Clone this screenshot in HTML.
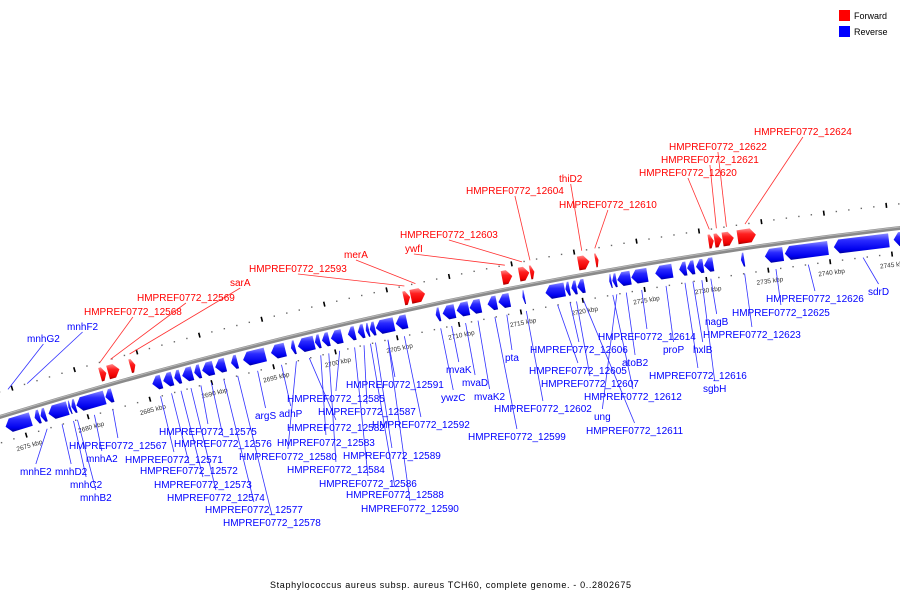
<!DOCTYPE html>
<html><head><meta charset="utf-8"><style>
html,body{margin:0;padding:0;background:#fff;}
svg{display:block;font-family:"Liberation Sans",sans-serif;}
</style></head><body>
<svg id="chart" width="900" height="600" viewBox="0 0 900 600" xmlns="http://www.w3.org/2000/svg">
<defs>
<linearGradient id="gb" x1="0" y1="0" x2="0" y2="1"><stop offset="0" stop-color="#8c8cff"/><stop offset="0.35" stop-color="#2a2aff"/><stop offset="0.8" stop-color="#0000ee"/><stop offset="1" stop-color="#00009a"/></linearGradient>
<linearGradient id="gr" x1="0" y1="0" x2="0" y2="1"><stop offset="0" stop-color="#ff8c8c"/><stop offset="0.35" stop-color="#ff2020"/><stop offset="0.8" stop-color="#ee0000"/><stop offset="1" stop-color="#9a0000"/></linearGradient>
</defs>
<g id="ticks"></g>
<g id="backbone"></g>
<g id="lines"></g>
<g id="genes"></g>
<g id="labels"></g>
<g>
<rect x="839" y="10" width="11" height="11" fill="#ff0000"/>
<text x="854" y="19" font-size="9" fill="#000">Forward</text>
<rect x="839" y="26" width="11" height="11" fill="#0000ff"/>
<text x="854" y="35" font-size="9" fill="#000">Reverse</text>
</g>
<text x="270" y="588" font-size="9" textLength="361" fill="#000">Staphylococcus aureus subsp. aureus TCH60, complete genome. - 0..2802675</text>
</svg>
<script>
const revStart = [2673.63,2675.97,2676.45,2677.09,2678.70,2678.94,2679.34,2681.68,2685.46,2686.34,2687.23,2687.87,2688.84,2689.48,2690.53,2691.81,2692.78,2695.03,2696.64,2697.20,2698.57,2699.14,2699.86,2701.23,2702.03,2702.67,2702.99,2703.48,2705.09,2708.31,2708.87,2710.00,2711.04,2712.49,2713.37,2715.31,2717.16,2718.77,2719.25,2719.73,2722.30,2722.55,2722.95,2724.08,2726.01,2727.94,2728.58,2729.30,2729.95,2732.92,2734.85,2736.46,2740.41,2745.23];
const revEnd = [2675.72,2676.45,2676.93,2678.70,2678.94,2679.34,2681.68,2682.32,2686.26,2687.15,2687.79,2688.76,2689.40,2690.45,2691.41,2692.38,2694.63,2696.24,2697.04,2698.57,2699.05,2699.78,2700.82,2701.87,2702.59,2702.99,2703.48,2705.01,2706.05,2708.71,2709.92,2711.04,2712.01,2713.29,2714.34,2715.55,2718.77,2719.17,2719.73,2720.37,2722.55,2722.95,2724.08,2725.44,2727.45,2728.58,2729.22,2729.95,2730.75,2733.25,2736.38,2740.00,2744.91,2746.27];
const fwdStart = [2681.76,2682.40,2684.17,2706.13,2706.70,2714.02,2715.39,2716.27,2720.13,2721.50,2730.59,2731.07,2731.72,2732.92];
const fwdEnd = [2682.32,2683.37,2684.65,2706.70,2707.90,2714.90,2716.27,2716.67,2721.10,2721.82,2731.07,2731.72,2732.68,2734.45];
const tickKbp = [2670,2675,2680,2685,2690,2695,2700,2705,2710,2715,2720,2725,2730,2735,2740,2745];
const tickLabels = ["2670 kbp","2675 kbp","2680 kbp","2685 kbp","2690 kbp","2695 kbp","2700 kbp","2705 kbp","2710 kbp","2715 kbp","2720 kbp","2725 kbp","2730 kbp","2735 kbp","2740 kbp","2745 kbp"];
const labelText = ["mnhG2","mnhF2","mnhE2","mnhD2","mnhC2","mnhB2","mnhA2","HMPREF0772_12567","HMPREF0772_12571","HMPREF0772_12572","HMPREF0772_12573","HMPREF0772_12574","HMPREF0772_12575","HMPREF0772_12576","HMPREF0772_12577","HMPREF0772_12578","argS","adhP","HMPREF0772_12580","HMPREF0772_12582","HMPREF0772_12583","HMPREF0772_12584","HMPREF0772_12585","HMPREF0772_12586","HMPREF0772_12587","HMPREF0772_12588","HMPREF0772_12589","HMPREF0772_12590","HMPREF0772_12591","HMPREF0772_12592","ywzC","mvaK","mvaD","mvaK2","HMPREF0772_12599","pta","HMPREF0772_12602","HMPREF0772_12605","HMPREF0772_12606","HMPREF0772_12607","HMPREF0772_12611","HMPREF0772_12612","ung","atoB2","HMPREF0772_12614","proP","HMPREF0772_12616","hxlB","sgbH","nagB","HMPREF0772_12623","HMPREF0772_12625","HMPREF0772_12626","sdrD","HMPREF0772_12568","HMPREF0772_12569","sarA","HMPREF0772_12593","merA","ywfI","HMPREF0772_12603","HMPREF0772_12604","thiD2","HMPREF0772_12610","HMPREF0772_12620","HMPREF0772_12621","HMPREF0772_12622","HMPREF0772_12624"];
const labelStrand = ["r","r","r","r","r","r","r","r","r","r","r","r","r","r","r","r","r","r","r","r","r","r","r","r","r","r","r","r","r","r","r","r","r","r","r","r","r","r","r","r","r","r","r","r","r","r","r","r","r","r","r","r","r","r","f","f","f","f","f","f","f","f","f","f","f","f","f","f"];
const labelGene = [1,2,3,4,5,6,7,8,9,10,11,12,13,14,15,16,17,18,19,20,21,22,23,24,25,26,27,28,28,29,30,31,32,33,34,35,36,37,38,39,40,41,42,43,44,45,46,47,48,49,50,51,52,53,1,2,3,4,5,6,7,8,9,10,11,12,13,14];
// layout (text positions: left x, vertical centre)
const layoutX = [27,67,20,55,70,80,86,69,125,140,154,167,159,174,205,223,255,279,239,287,277,287,287,319,318,346,343,361,346,372,441,446,462,474,468,505,494,529,530,541,586,584,594,622,598,663,649,693,703,705,703,732,766,868,84,137,230,249,344,405,400,466,559,559,639,661,669,754];
const layoutY = [338,326,471,471,484,497,458,445,459,470,484,497,431,443,509,522,415,413,456,427,442,469,398,483,411,494,455,508,384,424,397,369,382,396,436,357,408,370,349,383,430,396,416,362,336,349,375,349,388,321,334,312,298,291,311,297,282,268,254,248,234,190,178,204,172,159,146,131];

const NS="http://www.w3.org/2000/svg";
const R=4998.5, CX=1473, CY=5193.5;
function kx(kbp){return 19+(kbp-2675)*12.43;}
function theta(kbp){return Math.asin((kx(kbp)-CX)/R);}
function pt(kbp,r){const t=theta(kbp);return [CX+r*Math.sin(t), CY-r*Math.cos(t)];}
function mk(tag,parent){const e=document.createElementNS(NS,tag);parent.appendChild(e);return e;}

// backbone
const bb=document.getElementById('backbone');
const p0=pt(2672,R), p1=pt(2748,R);
const bbPath=mk('path',bb);


bbPath.setAttribute('d',`M${p0[0]},${p0[1]} A${R},${R} 0 0 1 ${p1[0]},${p1[1]}`);
bbPath.setAttribute('stroke','#8a8a8a');bbPath.setAttribute('stroke-width','4');bbPath.setAttribute('fill','none');
const bbHi=mk('path',bb);


const q0=pt(2672,R+1), q1=pt(2748,R+1);
bbHi.setAttribute('d',`M${q0[0]},${q0[1]} A${R+1},${R+1} 0 0 1 ${q1[0]},${q1[1]}`);
bbHi.setAttribute('stroke','#b8b8b8');bbHi.setAttribute('stroke-width','1');bbHi.setAttribute('fill','none');

// ticks
const tg=document.getElementById('ticks');
for(let k=2670;k<=2748;k++){
  [R+24,R-25].forEach(r=>{
    const p=pt(k,r);
    if(p[0]<-5||p[0]>905) return;
    if(k%5===0){
      const a=pt(k,r-2.5), b=pt(k,r+2.5);
      const l=mk('line',tg);
      
      
      l.setAttribute('x1',a[0]);l.setAttribute('y1',a[1]);l.setAttribute('x2',b[0]);l.setAttribute('y2',b[1]);
      l.setAttribute('stroke','#000');l.setAttribute('stroke-width','1.6');
    } else {
      const d=mk('rect',tg);
      
      
      d.setAttribute('x',p[0]-0.7);d.setAttribute('y',p[1]-0.7);d.setAttribute('width','1.4');d.setAttribute('height','1.4');
      d.setAttribute('fill','#666');
    }
  });
}
tickKbp.forEach((k,i)=>{
  const p=pt(k,R-36);
  if(p[0]<-10||p[0]>910) return;
  const t=mk('text',tg);
  
  
  t.setAttribute('x',p[0]);t.setAttribute('y',p[1]+2);
  t.setAttribute('font-size','6.5');t.setAttribute('fill','#333');t.setAttribute('text-anchor','middle');
  t.setAttribute('transform',`rotate(${theta(k)*180/Math.PI} ${p[0]} ${p[1]})`);
  t.textContent=tickLabels[i];
});

// genes
const gg=document.getElementById('genes');
function gene(s,e,fwd){
  const r1=fwd?R+19:R-4, r2=fwd?R+5:R-18, rm=(r1+r2)/2;
  const ah=Math.min(0.42,(e-s)*0.6);
  let pts;
  if(fwd) pts=[pt(s,r1),pt(e-ah,r1),pt(e,rm),pt(e-ah,r2),pt(s,r2)];
  else pts=[pt(s,rm),pt(s+ah,r1),pt(e,r1),pt(e,r2),pt(s+ah,r2)];
  const g=mk('polygon',gg);
  
  
  g.setAttribute('points',pts.map(p=>p[0].toFixed(2)+','+p[1].toFixed(2)).join(' '));
  g.setAttribute('fill',fwd?'url(#gr)':'url(#gb)');
}
revStart.forEach((s,i)=>gene(s+0.03,revEnd[i]-0.03,false));
fwdStart.forEach((s,i)=>gene(s+0.03,fwdEnd[i]-0.03,true));

// labels + lines
const lg=document.getElementById('labels'), ln=document.getElementById('lines');
labelText.forEach((txt,i)=>{
  const fwd=labelStrand[i]==='f';
  const idx=labelGene[i]-1;
  const mid=fwd?(fwdStart[idx]+fwdEnd[idx])/2:(revStart[idx]+revEnd[idx])/2;
  const col=fwd?'#ff0000':'#0000ff';
  const t=mk('text',lg);
  
  
  t.setAttribute('x',layoutX[i]);t.setAttribute('y',layoutY[i]+4);
  t.setAttribute('font-size','10');t.setAttribute('fill',col);
  t.textContent=txt;
  const w=t.getComputedTextLength();
  const lx=layoutX[i], ly=layoutY[i];
  const bbY=pt(mid,R)[1];
  const above=ly<bbY;
  const S=pt(mid,above?R+24:R-25);
  const ay=above?ly+6:ly-7;
  const ax=lx+w/2;
  const l=mk('line',ln);
  
  
  l.setAttribute('x1',S[0]);l.setAttribute('y1',S[1]);l.setAttribute('x2',ax);l.setAttribute('y2',ay);
  l.setAttribute('stroke',fwd?'#ff3030':'#3030ff');l.setAttribute('stroke-width','0.8');
});
</script>
</body></html>
